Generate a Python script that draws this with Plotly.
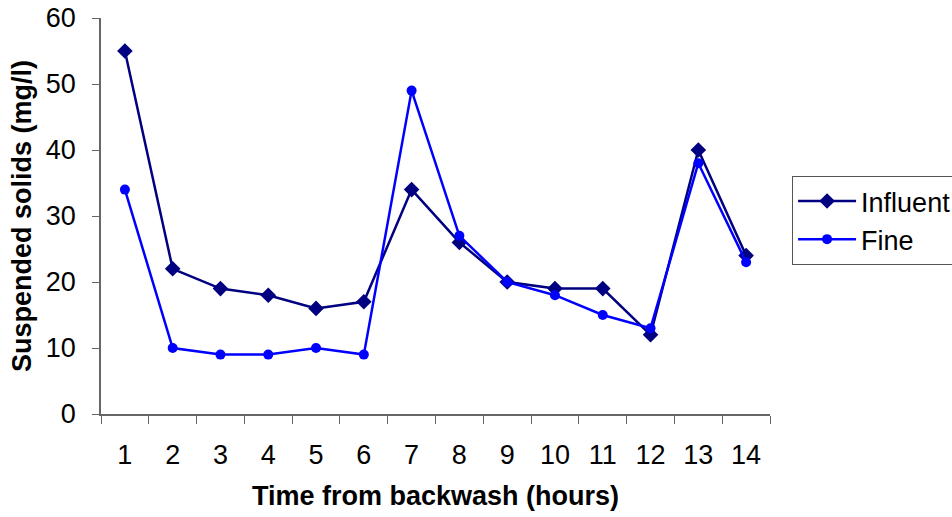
import plotly.graph_objects as go

# Hours after backwash and suspended solids (mg/l)
hours = [str(h) for h in range(1, 15)]
influent = [55, 22, 19, 18, 16, 17, 34, 26, 20, 19, 19, 12, 40, 24]
fine = [34, 10, 9, 9, 10, 9, 49, 27, 20, 18, 15, 13, 38, 23]
y_ticks = [0, 10, 20, 30, 40, 50, 60]

FONT = "Liberation Sans, Arial, sans-serif"
SIZE = 27

fig = go.Figure()
fig.add_trace(go.Scatter(
    x=hours, y=influent, name="Influent", mode="lines+markers",
    line=dict(color="#000080", width=2.5),
    marker=dict(symbol="diamond", size=12, color="#000080"),
))
fig.add_trace(go.Scatter(
    x=hours, y=fine, name="Fine", mode="lines+markers",
    line=dict(color="#0000FF", width=2.5),
    marker=dict(symbol="circle", size=10, color="#0000FF"),
))

fig.update_layout(
    width=952, height=517,
    margin=dict(l=101, r=182, t=18, b=103, autoexpand=False),
    paper_bgcolor="white", plot_bgcolor="white",
    font=dict(family=FONT, size=SIZE, color="black"),
    showlegend=True,
    legend=dict(
        x=1.033, xanchor="left", y=0.601, yanchor="top",
        bordercolor="#555", borderwidth=1, bgcolor="white",
        font=dict(size=SIZE), tracegroupgap=0, itemwidth=58,
    ),
    xaxis=dict(
        type="category", range=[-0.5, 13.5],
        tickson="boundaries", ticks="outside", ticklen=8, tickcolor="#666",
        showline=True, linecolor="#666", linewidth=1.5,
        showgrid=False, zeroline=False, automargin=False,
        ticklabelstandoff=16,
        title=dict(text="<b>Time from backwash (hours)</b>", font=dict(size=SIZE), standoff=17),
    ),
    yaxis=dict(
        range=[0, 60], tickvals=y_ticks,
        ticks="outside", ticklen=7, tickcolor="#666",
        showline=True, linecolor="#666", linewidth=1.5,
        showgrid=False, zeroline=False, automargin=False,
        ticklabelstandoff=11,
        title=dict(text="<b>Suspended solids (mg/l)</b>", font=dict(size=SIZE), standoff=6),
    ),
)

fig.write_html("out.html")
